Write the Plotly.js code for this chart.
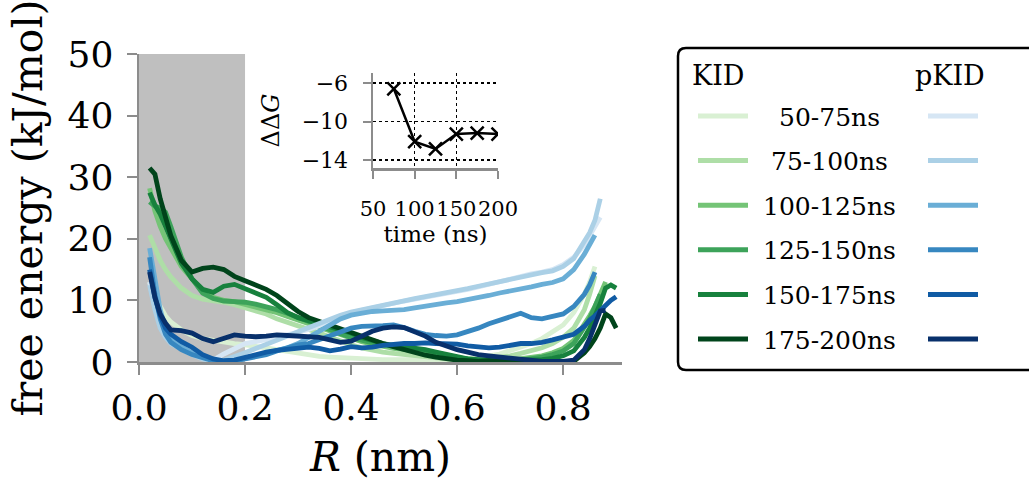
<!DOCTYPE html>
<html>
<head>
<meta charset="utf-8">
<script src="https://cdn.plot.ly/plotly-3.0.1.min.js"></script>
<style>html,body{margin:0;padding:0;background:#fff}#chart{width:1029px;height:484px}</style>
</head>
<body>
<div id="chart"></div>
<script>
// ---- data ----
const R = [0.02,0.03,0.04,0.05,0.06,0.08,0.10,0.12,0.14,0.16,0.18,0.20,0.22,0.24,0.26,0.28,0.30,0.32,0.34,0.36,0.38,0.40,0.42,0.44,0.46,0.48,0.50,0.52,0.54,0.56,0.58,0.60,0.62,0.64,0.66,0.68,0.70,0.72,0.74,0.76,0.78,0.80,0.82,0.84,0.85,0.86,0.87,0.88,0.89,0.90];

const kid50  = [13,11,9,7.5,6.5,5.2,4.3,3.8,3.5,3.2,3.0,2.8,2.6,2.3,2.0,1.7,1.4,1.1,0.9,0.8,0.7,0.6,0.5,0.5,0.4,0.4,0.4,0.3,0.3,0.3,0.4,0.4,0.5,0.7,1.0,1.3,1.8,2.3,3.0,3.8,4.8,6.0,8.0,11.0,13.0,15.5,null,null,null,null];
const kid75  = [20.6,18.5,16.5,15.0,13.8,12.0,10.8,10.2,10.0,9.7,9.3,8.8,8.3,7.8,7.0,6.5,5.9,5.3,4.7,4.0,3.4,2.8,2.3,1.9,1.6,1.4,1.2,1.0,0.8,0.6,0.5,0.4,0.4,0.5,0.6,0.8,1.0,1.4,1.8,2.3,3.0,4.0,5.5,8.5,11.0,14.0,null,null,null,null];
const kid100 = [28.2,24.5,22.0,20.0,18.5,15.5,13.5,11.5,10.5,10.0,9.8,9.4,9.0,8.6,8.0,7.4,6.8,6.2,5.6,5.0,4.4,3.8,3.3,2.9,2.5,2.2,2.0,1.8,1.5,1.2,0.9,0.6,0.4,0.3,0.2,0.2,0.3,0.5,0.7,1.0,1.5,2.2,3.5,6.0,7.5,9.0,11.0,13.0,null,null];
const kid125 = [26.0,25.3,25.0,24.3,22.0,17.0,13.5,11.2,10.3,9.9,9.8,9.7,9.4,9.0,8.5,7.9,7.2,6.6,6.0,5.3,4.6,4.0,3.5,3.1,2.8,2.6,2.4,2.1,1.8,1.4,1.0,0.7,0.5,0.3,0.3,0.2,0.2,0.3,0.5,0.8,1.2,1.8,3.0,5.5,7.0,9.0,11.0,null,null,null];
const kid150 = [27.5,25.5,24.0,22.0,20.0,16.0,13.5,11.8,11.3,12.3,12.6,11.9,11.2,10.5,9.3,8.0,7.2,6.7,6.2,5.8,5.3,4.7,4.0,3.4,3.0,2.7,2.5,2.3,2.0,1.6,1.2,0.8,0.5,0.4,0.3,0.2,0.2,0.3,0.3,0.4,0.6,1.0,1.8,4.0,5.5,7.5,9.5,12.0,12.5,12.0];
const kid175 = [31.5,30.5,26.5,23.5,20.5,16.5,14.6,15.2,15.4,15.0,13.9,13.2,12.5,11.8,10.8,9.5,8.2,7.2,6.6,5.9,5.2,4.6,4.0,3.6,3.0,2.5,2.0,1.6,1.1,0.8,0.5,0.3,0.2,0.1,0.2,0.1,0,0.1,0.1,0,0,0,0.1,1.5,2.5,3.8,5.5,7.8,7.2,5.5];

const p50  = [13,9,6,4.5,3.5,2.5,1.5,0.8,0.3,1.3,2.2,3.0,3.3,3.6,4.0,4.4,4.8,5.3,5.9,6.6,7.3,7.9,8.4,8.8,9.2,9.6,9.9,10.2,10.5,10.8,11.1,11.4,11.8,12.2,12.6,13.0,13.5,14.0,14.3,14.6,15.0,15.8,17.0,19.0,20.5,22.0,23.5,null,null,null];
const p75  = [12.5,8.5,5.5,4.0,3.0,2.0,1.2,0.5,0.1,0.3,0.8,1.5,2.2,2.8,3.5,4.2,4.9,5.6,6.3,7.0,7.6,8.1,8.5,8.9,9.3,9.7,10.0,10.3,10.6,10.9,11.2,11.5,11.9,12.3,12.7,13.1,13.5,13.9,14.3,14.5,14.8,15.5,16.8,19.5,21.0,23.0,26.5,null,null,null];
const p100 = [18.5,13,8.5,5.5,4.0,2.5,1.5,0.8,0.3,0.1,0.2,0.6,1.0,1.4,1.8,2.3,3.0,4.0,5.0,6.0,7.0,7.6,8.0,8.2,8.3,8.4,8.5,8.8,9.1,9.4,9.6,9.8,10.1,10.4,10.8,11.2,11.5,11.8,12.2,12.6,12.9,13.5,15.0,17.5,19.0,20.6,null,null,null,null];
const p125 = [17,11,7,4.5,3.2,2.0,1.2,0.6,0.2,0.1,0.2,0.5,0.8,1.2,1.8,2.4,2.8,3.0,3.6,4.4,5.0,5.5,5.8,5.8,5.9,6.0,5.6,5.0,4.5,4.3,4.2,4.4,4.9,5.5,6.2,6.8,7.2,7.9,7.2,7.0,7.4,7.8,9.0,11.0,12.5,14.6,null,null,null,null];
const p150 = [15,10.5,7.5,5.5,4.5,3.3,2.4,1.2,0.5,0.2,0.3,0.8,1.2,1.6,1.9,2.1,2.3,2.4,2.2,1.8,2.1,2.5,2.3,2.4,2.7,2.9,3.0,3.0,3.1,3.0,3.0,2.9,2.6,2.4,2.3,2.4,2.7,3.0,3.0,3.2,3.6,4.0,4.5,5.8,6.8,7.5,8.3,9.3,10.0,10.6];
const p175 = [14.6,10.5,7.8,6.3,5.2,5.1,4.7,3.8,3.3,3.9,4.4,4.2,4.1,4.2,4.4,4.3,4.2,4.1,4.0,3.6,3.2,3.4,4.3,5.0,5.5,5.7,5.6,5.0,4.2,3.2,2.5,2.0,1.6,1.2,1.0,0.8,0.6,0.4,0.2,0.1,0.1,0.1,0.3,2.0,3.8,6.0,8.3,8.4,null,null];

const windows = ['50-75ns','75-100ns','100-125ns','125-150ns','150-175ns','175-200ns'];
const kidSeries  = [kid50, kid75, kid100, kid125, kid150, kid175];
const pkidSeries = [p50, p75, p100, p125, p150, p175];
const greens = ['#d9f0d3','#aedea7','#74c476','#3da35a','#17813d','#00441b'];
const blues  = ['#d6e6f4','#abd0e6','#6aaed6','#3787c0','#105ba4','#08306b'];

const insetTime = [75,100,125,150,175,200];
const insetDDG  = [-6.6,-12.1,-12.85,-11.3,-11.2,-11.3];

// ---- build ----
const FONT = 'DejaVu Serif';
const traces = [];
kidSeries.forEach((s,i)=>traces.push({x:R,y:s,type:'scatter',mode:'lines',name:'KID '+windows[i],
  line:{color:greens[i],width:4.8},xaxis:'x',yaxis:'y',showlegend:false,hoverinfo:'skip'}));
pkidSeries.forEach((s,i)=>traces.push({x:R,y:s,type:'scatter',mode:'lines',name:'pKID '+windows[i],
  line:{color:blues[i],width:4.8},xaxis:'x',yaxis:'y',showlegend:false,hoverinfo:'skip'}));
traces.push({x:insetTime,y:insetDDG,type:'scatter',mode:'lines+markers',xaxis:'x2',yaxis:'y2',
  line:{color:'#000',width:2.5},marker:{symbol:'x-thin',size:13,line:{color:'#000',width:2.5}},
  showlegend:false,hoverinfo:'skip'});

// pixel -> paper helpers (plot area: left 139, top 54, 483 x 308)
const L=139,T=54,PW=483,PH=308;
const PX = v => (v-L)/PW, PY = v => (T+PH-v)/PH;

const shapes = [
  {type:'rect',xref:'x',yref:'y',x0:0,x1:0.2,y0:0,y1:50,fillcolor:'#bfbfbf',line:{width:0},layer:'below'}
];
(function(){
  const x0=PX(678),x1=PX(1045),y0=PY(370),y1=PY(48),rx=8/PW,ry=8/PH;
  const p=`M ${x0+rx},${y1} L ${x1-rx},${y1} Q ${x1},${y1} ${x1},${y1-ry} L ${x1},${y0+ry} Q ${x1},${y0} ${x1-rx},${y0} L ${x0+rx},${y0} Q ${x0},${y0} ${x0},${y0+ry} L ${x0},${y1-ry} Q ${x0},${y1} ${x0+rx},${y1} Z`;
  shapes.push({type:'path',xref:'paper',yref:'paper',path:p,line:{color:'#000',width:2.5},fillcolor:'rgba(255,255,255,1)',layer:'above'});
})();
const annotations = [
  {xref:'paper',yref:'paper',x:PX(690),y:PY(75),xanchor:'left',yanchor:'middle',text:'KID',showarrow:false,font:{family:FONT,size:27,color:'#000'}},
  {xref:'paper',yref:'paper',x:PX(950),y:PY(75),xanchor:'center',yanchor:'middle',text:'pKID',showarrow:false,font:{family:FONT,size:27,color:'#000'}}
];
windows.forEach((w,i)=>{
  const yy = 116 + i*44.6;
  shapes.push({type:'line',xref:'paper',yref:'paper',x0:PX(698),x1:PX(748),y0:PY(yy),y1:PY(yy),line:{color:greens[i],width:5}});
  shapes.push({type:'line',xref:'paper',yref:'paper',x0:PX(928),x1:PX(978),y0:PY(yy),y1:PY(yy),line:{color:blues[i],width:5}});
  annotations.push({xref:'paper',yref:'paper',x:PX(829),y:PY(yy+1),xanchor:'center',yanchor:'middle',text:w,showarrow:false,font:{family:FONT,size:25,color:'#000'}});
});

const AX = '#8c8c8c';
const layout = {
  width:1029,height:484,autosize:false,
  margin:{l:L,r:1029-L-PW,t:T,b:484-T-PH,pad:0},
  paper_bgcolor:'#fff',plot_bgcolor:'rgba(0,0,0,0)',
  font:{family:FONT,color:'#000'},
  xaxis:{domain:[0,1],anchor:'y',range:[0,0.911],tickvals:[0,0.2,0.4,0.6,0.8],tickformat:'.1f',
    ticks:'outside',ticklen:10,tickwidth:2,tickcolor:AX,showline:true,linecolor:AX,linewidth:2.5,
    showgrid:false,zeroline:false,tickfont:{size:36,family:FONT},ticklabelstandoff:2,
    title:{text:'<i>R</i> (nm)',font:{size:41,family:FONT},standoff:16}},
  yaxis:{domain:[0,1],anchor:'x',range:[0,50],tickvals:[0,10,20,30,40,50],
    ticks:'outside',ticklen:10,tickwidth:2,tickcolor:AX,showline:true,linecolor:AX,linewidth:2.5,
    showgrid:false,zeroline:false,tickfont:{size:36,family:FONT},ticklabelstandoff:6,
    title:{text:'free energy (kJ/mol)',font:{size:41,family:FONT},standoff:12}},
  xaxis2:{domain:[PX(373),PX(498)],anchor:'y2',range:[50,200],tickvals:[50,100,150,200],tickangle:0,
    ticks:'outside',ticklen:8,tickwidth:2,tickcolor:AX,showline:true,linecolor:AX,linewidth:2.5,
    showgrid:true,gridcolor:'#000',gridwidth:1.3,griddash:'dot',zeroline:false,
    tickfont:{size:21,family:FONT},ticklabelstandoff:12,
    title:{text:'time (ns)',font:{size:23,family:FONT},standoff:0}},
  yaxis2:{domain:[PY(168),PY(73)],anchor:'x2',range:[-14.83,-4.96],tickvals:[-6,-10,-14],
    ticks:'outside',ticklen:8,tickwidth:2,tickcolor:AX,showline:true,linecolor:AX,linewidth:2.5,
    showgrid:true,gridcolor:'#000',gridwidth:1.3,griddash:'dot',zeroline:false,
    tickfont:{size:22,family:FONT},ticklabelstandoff:10,
    title:{text:'ΔΔ<i>G</i>',font:{size:24,family:FONT},standoff:16}},
  shapes:shapes,
  annotations:annotations,
  showlegend:false
};
Plotly.newPlot('chart',traces,layout,{displayModeBar:false,staticPlot:true});
</script>
</body>
</html>
